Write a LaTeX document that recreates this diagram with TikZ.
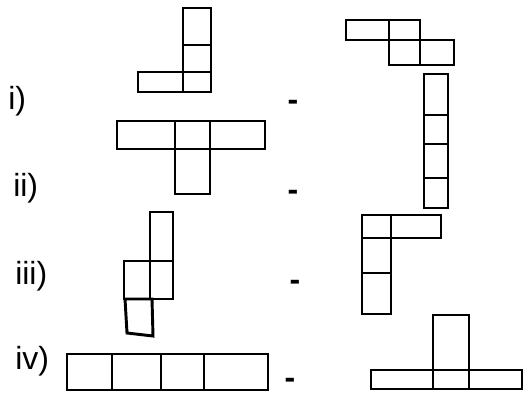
\documentclass[tikz,border=0pt]{standalone}
\usepackage{fontspec}
\setmainfont{Liberation Sans}
\begin{document}
\begin{tikzpicture}[x=0.75pt, y=-0.75pt,
		cell/.style={line width=2.2pt, line join=miter},
		lbl/.style={anchor=west, inner sep=0pt, font=\fontsize{24}{28}\selectfont},
		sep/.style={inner sep=0pt, font=\fontsize{24}{28}\bfseries}]
		\useasboundingbox (0,0) rectangle (531,394);
		% labels
		\node[lbl] (li) at (8,101) {i)};
		\node[lbl] (lii) at (13,188) {ii)};
		\node[lbl] (liii) at (15,276) {iii)};
		\node[lbl] (liv) at (15,361) {iv)};
		\node[sep] (di) at (293,105) {-};
		\node[sep] (dii) at (293,195) {-};
		\node[sep] (diii) at (295,285) {-};
		\node[sep] (div) at (290,383) {-};
		% i) left
		\draw[cell] (183,8) rectangle (211,45);
		\draw[cell] (183,45) rectangle (211,72);
		\draw[cell] (183,72) rectangle (211,92);
		\draw[cell] (138,72) rectangle (183,92);
		% i) right
		\draw[cell] (346,20) rectangle (389,40);
		\draw[cell] (389,20) rectangle (420,40);
		\draw[cell] (389,40) rectangle (420,65);
		\draw[cell] (420,40) rectangle (454,65);
		% ii) left
		\draw[cell] (117,121) rectangle (175,149);
		\draw[cell] (175,121) rectangle (210,149);
		\draw[cell] (210,121) rectangle (265,149);
		\draw[cell] (175,149) rectangle (210,194);
		% ii) right
		\draw[cell] (424,74) rectangle (448,115);
		\draw[cell] (424,115) rectangle (448,144);
		\draw[cell] (424,144) rectangle (448,178);
		\draw[cell] (424,178) rectangle (448,208);
		% iii) left
		\draw[cell] (150,212) rectangle (173,261);
		\draw[cell] (150,261) rectangle (173,299);
		\draw[cell] (124,261) rectangle (150,299);
		\draw[cell] (125,299) -- (152,299) -- (153,336) -- (127,333) -- cycle;
		% iii) right
		\draw[cell] (362,215) rectangle (391,238);
		\draw[cell] (391,215) rectangle (441,238);
		\draw[cell] (362,238) rectangle (391,273);
		\draw[cell] (362,273) rectangle (391,314);
		% iv) left
		\draw[cell] (67,354) rectangle (112,390);
		\draw[cell] (112,354) rectangle (161,390);
		\draw[cell] (161,354) rectangle (204,390);
		\draw[cell] (204,354) rectangle (268,390);
		% iv) right
		\draw[cell] (371,370) rectangle (433,389);
		\draw[cell] (433,370) rectangle (469,389);
		\draw[cell] (469,370) rectangle (522,389);
		\draw[cell] (433,315) rectangle (469,370);
\end{tikzpicture}
\end{document}
